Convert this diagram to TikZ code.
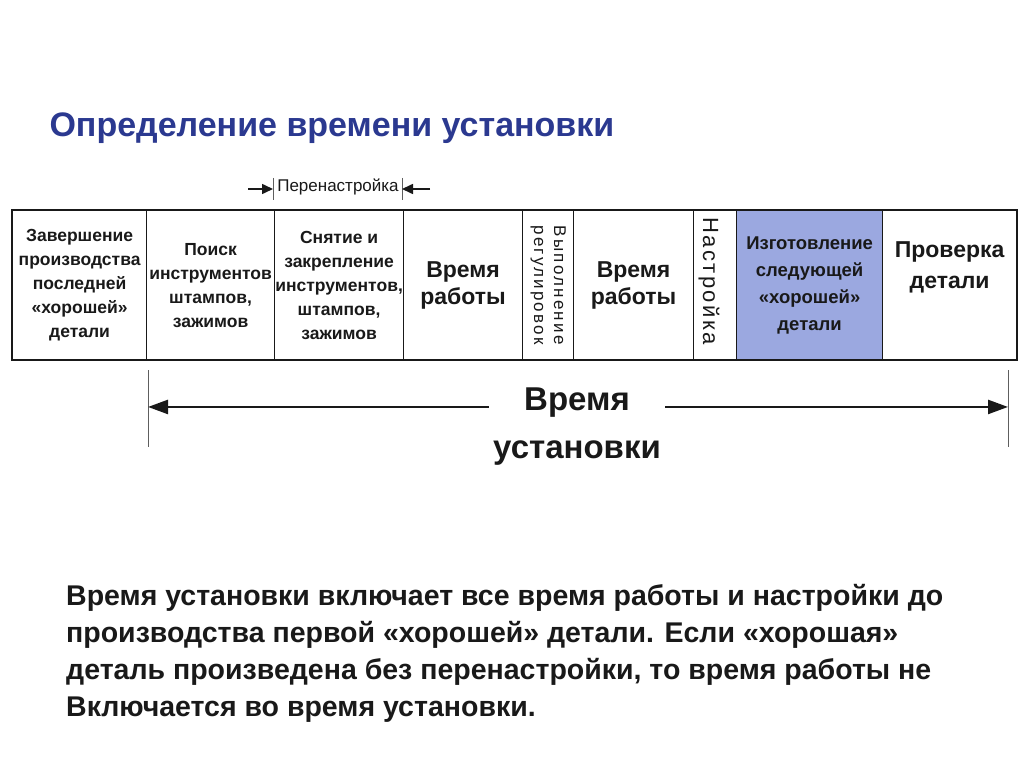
\documentclass[tikz,border=0pt]{standalone}
\usepackage{fontspec}
\setmainfont{Liberation Sans}
\newfontfamily\espacea[LetterSpace=13]{Liberation Sans}
\newfontfamily\espaceb[LetterSpace=11]{Liberation Sans}
\usepackage{tikz}
\usetikzlibrary{
	calc,
	arrows.meta,
	positioning
	}
\definecolor{bleu-titre}{RGB}{43,57,144}
\definecolor{bleu-case}{RGB}{155,168,224}
\definecolor{gris-trait}{RGB}{25,25,25}
\tikzstyle{case-std}=[draw=gris-trait,line width=1.2pt,rectangle,anchor=north west,inner sep=0pt,minimum height=149pt,align=center,text=gris-trait,font=\bfseries\fontsize{17.5}{24}\selectfont]
\tikzstyle{texte-gros}=[align=center,text=gris-trait,font=\bfseries\fontsize{23}{31}\selectfont]
\tikzstyle{fleche-std}=[line width=2.4pt,draw=gris-trait,{Triangle[length=20pt,width=14pt]}-{Triangle[length=20pt,width=14pt]}]
\tikzstyle{repere-std}=[line width=1pt,draw=gris-trait!70]

\begin{document}
\begin{tikzpicture}[x=1pt,y=-1pt]
\useasboundingbox[fill=white] (0,0) rectangle (1024,767);

\node[anchor=base west,text=bleu-titre,font=\bfseries\fontsize{34}{38}\selectfont] (titre) at (46,137) {Определение времени установки};

% cases
\node[case-std,minimum width=134pt] (case1) at (12,210) {Завершение\\производства\\последней\\«хорошей»\\детали};
\node[case-std,minimum width=128pt] (case2) at (146,210) {Поиск\\инструментов\\штампов,\\зажимов};
\node[case-std,minimum width=129pt] (case3) at (274,210) {Снятие и\\закрепление\\инструментов,\\штампов,\\зажимов};
\node[case-std,minimum width=119pt,font=\bfseries\fontsize{23}{27}\selectfont] (case4) at (403,210) {Время\\работы};
\node[case-std,minimum width=51pt] (case5) at (522,210) {};
\node[case-std,minimum width=120pt,font=\bfseries\fontsize{23}{27}\selectfont] (case6) at (573,210) {Время\\работы};
\node[case-std,minimum width=43pt] (case7) at (693,210) {};
\node[case-std,minimum width=146pt,fill=bleu-case,font=\bfseries\fontsize{18.5}{27}\selectfont] (case8) at (736,210) {Изготовление\\следующей\\«хорошей»\\детали};
\node[case-std,minimum width=134pt] (case9) at (882,210) {};
\draw[line width=2.5pt,draw=gris-trait] (case1.north west) rectangle (case9.south east);

\node[rotate=-90,align=center,text=gris-trait,font=\espacea\fontsize{17}{20}\selectfont] (txt5) at (case5.center) {Выполнение\\регулировок};
\node[rotate=-90,text=gris-trait,font=\espaceb\fontsize{22}{24}\selectfont] (txt7) at ($(case7.center)+(-6,-4)$) {Настройка};
\node[texte-gros] (txt9) at ($(case9.center)+(0,-18)$) {Проверка\\детали};

% perenastroika
\node[text=gris-trait,font=\fontsize{17}{20}\selectfont,inner sep=0pt] (perenastr) at (338,187) {Перенастройка};
\coordinate (rep-g-haut) at (273,178);
\coordinate (rep-g-bas) at (273,200);
\coordinate (rep-d-haut) at (402,178);
\coordinate (rep-d-bas) at (402,200);
\coordinate (fl-g) at (248,189);
\coordinate (fl-d) at (430,189);
\draw[repere-std] (rep-g-haut) -- (rep-g-bas);
\draw[repere-std] (rep-d-haut) -- (rep-d-bas);
\draw[line width=1.6pt,draw=gris-trait,-{Triangle[length=11pt,width=10pt]}] (fl-g) -- ($(rep-g-haut)!0.5!(rep-g-bas)$);
\draw[line width=1.6pt,draw=gris-trait,-{Triangle[length=11pt,width=10pt]}] (fl-d) -- ($(rep-d-haut)!0.5!(rep-d-bas)$);

% temps de reglage
\coordinate (bord-g-haut) at (148,370);
\coordinate (bord-g-bas) at (148,447);
\coordinate (bord-d-haut) at (1008,370);
\coordinate (bord-d-bas) at (1008,447);
\draw[repere-std] (bord-g-haut) -- (bord-g-bas);
\draw[repere-std] (bord-d-haut) -- (bord-d-bas);
\draw[fleche-std] ($(bord-g-haut)!0.48!(bord-g-bas)$) -- ($(bord-d-haut)!0.48!(bord-d-bas)$);
\node[anchor=north,fill=white,inner xsep=4pt,inner ysep=0pt,align=center,text=gris-trait,font=\bfseries\fontsize{33}{48}\selectfont] (temps) at (577,388) {Время\\установки};

\node[anchor=north west,inner sep=0pt,align=left,text=gris-trait,font=\bfseries\fontsize{28.5}{37}\selectfont] (texte) at (66,584) {Время установки включает все время работы и настройки до\\производства первой «хорошей» детали. Если «хорошая»\\деталь произведена без перенастройки, то время работы не\\Включается во время установки.};
\end{tikzpicture}
\end{document}
